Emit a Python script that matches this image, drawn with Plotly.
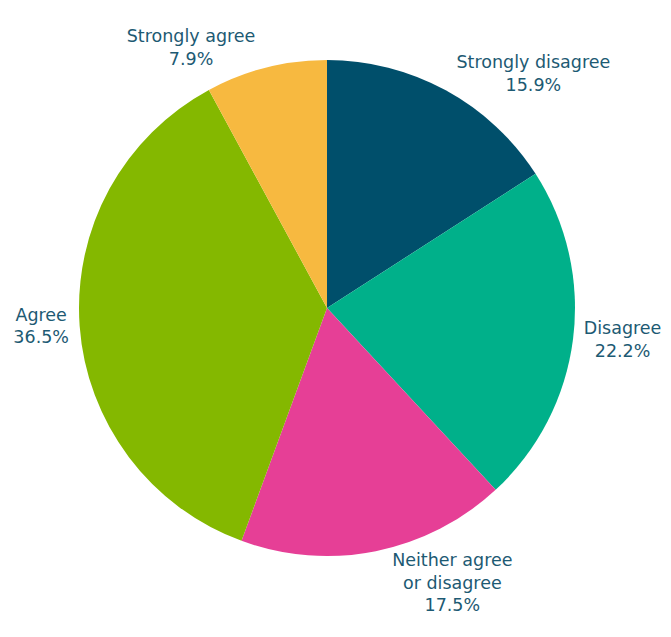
import plotly.graph_objects as go

categories = ["Strongly disagree", "Disagree", "Neither agree<br>or disagree", "Agree", "Strongly agree"]
values = [15.9, 22.2, 17.5, 36.5, 7.9]
colors = ["#004f6b", "#00b08a", "#e63f96", "#84b800", "#f7b940"]

fig = go.Figure(go.Pie(
    labels=categories,
    values=values,
    sort=False,
    direction="clockwise",
    rotation=0,
    marker=dict(colors=colors, line=dict(width=0)),
    textposition="outside",
    texttemplate="%{label}<br>%{value:.1f}%",
    textfont=dict(family="DejaVu Sans, sans-serif", size=17.5, color="#1d5a73"),
    showlegend=False,
    hoverinfo="label+value",
))

fig.update_layout(
    width=671, height=637,
    margin=dict(l=67, r=104, t=50, b=87),
    paper_bgcolor="white",
    plot_bgcolor="white",
)

fig.write_html("out.html")
